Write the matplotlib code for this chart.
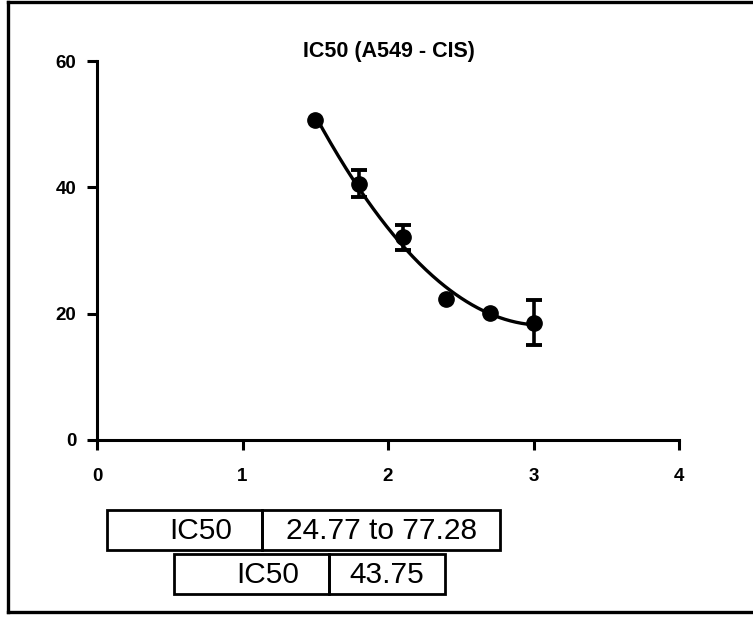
import numpy as np
import matplotlib
matplotlib.use("Agg")
import matplotlib.pyplot as plt
from matplotlib.lines import Line2D
from matplotlib.patches import Rectangle

plt.rcParams['font.family'] = ['Liberation Sans', 'DejaVu Sans']

# Data
x_vals = [1.5, 1.8, 2.1, 2.4, 2.7, 3.0]
y_vals = [50.7, 40.6, 32.1, 22.3, 20.1, 18.6]
y_err = [0.0, 2.2, 2.0, 0.0, 0.0, 3.6]
x_ticks = [0, 1, 2, 3, 4]
y_ticks = [0, 20, 40, 60]
title = "IC50 (A549 - CIS)"
table1 = ["IC50", "24.77 to 77.28"]
table2 = ["IC50", "43.75"]

W, H = 753, 617
fig = plt.figure(figsize=(W / 100, H / 100), dpi=100)

def fx(px):
    return px / W

def fy(py):
    return 1 - py / H

ax = fig.add_axes([fx(97), fy(440), fx(679) - fx(97), fy(61) - fy(440)])
ax.set_xlim(0, 4)
ax.set_ylim(0, 60)
for s in ['top', 'right']:
    ax.spines[s].set_visible(False)
for s in ['left', 'bottom']:
    ax.spines[s].set_linewidth(2.2)
ax.set_xticks(x_ticks)
ax.set_yticks(y_ticks)
ax.set_xticklabels([str(t) for t in x_ticks], fontsize=13.5, fontweight='bold')
ax.set_yticklabels([str(t) for t in y_ticks], fontsize=13.5, fontweight='bold')
ax.tick_params(axis='both', length=7, width=2.2)
ax.tick_params(axis='x', pad=13)
ax.tick_params(axis='y', pad=8)
ax.patch.set_alpha(0)

# fitted curve (second order polynomial)
coef = np.polyfit(x_vals, y_vals, 2)
xs = np.linspace(min(x_vals), max(x_vals), 200)
ax.plot(xs, np.polyval(coef, xs), color='black', lw=2.4, zorder=2)

ax.errorbar(x_vals, y_vals, yerr=[e if e > 0 else np.nan for e in y_err],
            fmt='none', ecolor='black', elinewidth=2.6, capsize=5.5,
            capthick=2.8, zorder=3, clip_on=False)
ax.plot(x_vals, y_vals, 'o', color='black', ms=11, zorder=4, clip_on=False)

fig.text(fx(389), fy(51), title, fontsize=15.5, fontweight='bold',
         ha='center', va='center')

# Tables
def draw_table(x0, xm, x1, y0, y1, texts):
    for (a, b) in [(x0, xm), (xm, x1)]:
        fig.patches.append(Rectangle((fx(a), fy(y1)), fx(b) - fx(a), fy(y0) - fy(y1),
                                     transform=fig.transFigure, fill=False,
                                     edgecolor='black', lw=2.0))
    yc = fy((y0 + y1) / 2 + 1)
    fig.text(fx(xm - 30), yc, texts[0], fontsize=21.5, ha='right', va='center')
    fig.text(fx((xm + x1) / 2), yc, texts[1], fontsize=21.5, ha='center', va='center')

draw_table(107, 262, 500, 510, 550, table1)
draw_table(174, 329, 445, 554, 594, table2)

# Outer frame
fig.lines.append(Line2D([fx(8), fx(8)], [fy(2), fy(612)], transform=fig.transFigure,
                        color='black', lw=2.4))
fig.lines.append(Line2D([fx(8), 1.0], [fy(2), fy(2)], transform=fig.transFigure,
                        color='black', lw=2.4))
fig.lines.append(Line2D([fx(8), 1.0], [fy(612), fy(612)], transform=fig.transFigure,
                        color='black', lw=2.4))

fig.savefig("out.png", dpi=100)
